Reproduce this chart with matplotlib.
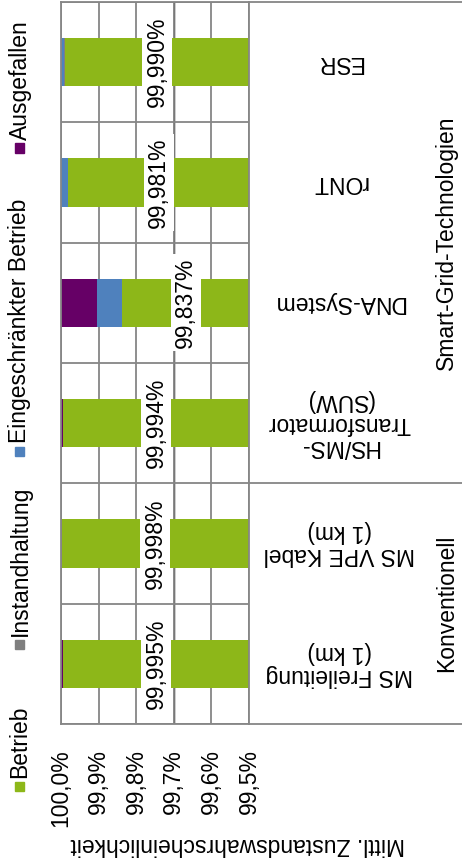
import matplotlib.pyplot as plt
import numpy as np
from matplotlib.patches import Rectangle

plt.rcParams['font.family'] = ['Liberation Sans', 'DejaVu Sans']
plt.rcParams['font.size'] = 16.5

# Kategorien von unten nach oben
kategorien = ['MS Freileitung\n(1 km)', 'MS VPE Kabel\n(1 km)',
              'HS/MS-\nTransformator\n(SUW)', 'DNA-System', 'rONT', 'ESR']
betrieb = [99.995, 99.998, 99.994, 99.837, 99.981, 99.990]
instandhaltung = [0.001, 0.001, 0.002, 0.000, 0.001, 0.003]
eingeschraenkt = [0.000, 0.000, 0.000, 0.068, 0.017, 0.007]
ausgefallen = [0.004, 0.001, 0.004, 0.095, 0.001, 0.000]

gruppen = ['Konventionell', 'Smart-Grid-Technologien']
gruppen_anzahl = [2, 4]

serien = ['Betrieb', 'Instandhaltung', 'Eingeschränkter Betrieb', 'Ausgefallen']
farben = ['#8DB719', '#7F7F7F', '#4F81BD', '#660066']

xticks = [100.0, 99.9, 99.8, 99.7, 99.6, 99.5]

fig = plt.figure(figsize=(4.62, 8.59), dpi=100)
ax = fig.add_axes([61 / 462, 1 - 724 / 859, 188 / 462, 722 / 859])

y = np.arange(len(kategorien))
links = np.zeros(len(kategorien))
for werte, farbe in zip([betrieb, instandhaltung, eingeschraenkt, ausgefallen], farben):
    ax.barh(y, werte, left=links, height=0.4, color=farbe, zorder=2)
    links = links + np.array(werte)

ax.set_xlim(100.0, 99.5)
ax.set_ylim(-0.5, len(kategorien) - 0.5)

grau = '#868686'
ax.set_xticks(xticks)
ax.set_xticklabels([f'{t:.1f}%'.replace('.', ',') for t in xticks], rotation=90)
ax.set_yticks([])
ax.set_yticks(np.arange(-0.5, len(kategorien), 1), minor=True)
ax.tick_params(axis='both', which='both', length=0)
ax.tick_params(axis='x', pad=18)
ax.grid(axis='x', color=grau, lw=1.3, zorder=0)
ax.grid(axis='y', which='minor', color=grau, lw=1.3, zorder=0)
ax.axvline(99.7, color='black', lw=1.0, zorder=1)
for s in ax.spines.values():
    s.set_color(grau)
    s.set_linewidth(1.3)

# Werte mittig im sichtbaren Balkenteil
for i, v in enumerate(betrieb):
    ax.text((99.5 + v) / 2, i, f'{v:.3f}%'.replace('.', ','), rotation=90,
            ha='center', va='center', zorder=5,
            bbox=dict(facecolor='white', edgecolor='none', pad=2.5))

# Kategorienbeschriftung rechts, kopfstehend
for i, k in enumerate(kategorien):
    ax.text(1.48, i, k, rotation=180, ha='center', va='center',
            transform=ax.get_yaxis_transform(), linespacing=1.0)

# Gruppenrahmen und -beschriftung
rand = 401 / 188
grenzen = [-0.5]
for n in gruppen_anzahl:
    grenzen.append(grenzen[-1] + n)
for g in grenzen:
    ax.plot([1, rand], [g, g], color=grau, lw=1.3, clip_on=False,
            transform=ax.get_yaxis_transform())
for name, a, b in zip(gruppen, grenzen[:-1], grenzen[1:]):
    ax.text(2.05, (a + b) / 2, name, rotation=90, ha='center', va='center',
            transform=ax.get_yaxis_transform())

fig.text(238 / 462, 1 - 845 / 859, 'Mittl. Zustandswahrscheinlichkeit',
         rotation=180, ha='center', va='center')

# Legende senkrecht am linken Rand
legende_y = [786, 644, 451, 148]
for name, farbe, py in zip(serien, farben, legende_y):
    fig.patches.append(Rectangle((15 / 462, 1 - (py + 4.5) / 859), 9 / 462, 9 / 859,
                                 transform=fig.transFigure, color=farbe))
    fig.text(20 / 462, 1 - (py - 8) / 859, name, rotation=90,
             ha='center', va='bottom')

fig.savefig('out.png', dpi=100)
